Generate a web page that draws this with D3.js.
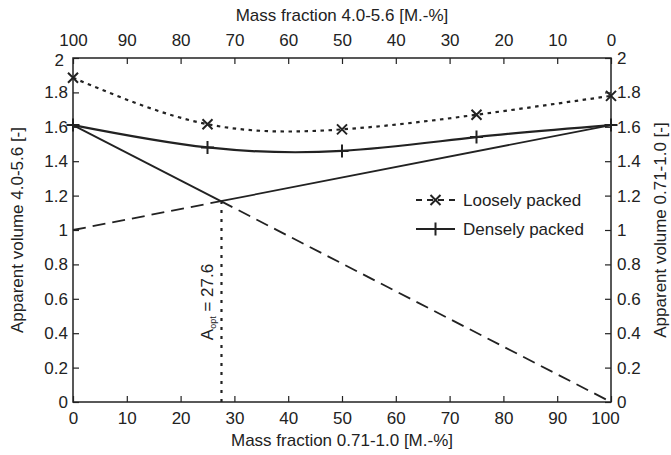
<!DOCTYPE html>
<html>
<head>
<meta charset="utf-8">
<script src="https://cdn.jsdelivr.net/npm/d3@7"></script>
<style>
  body { margin: 0; background: #fff; }
  svg text { font-family: "Liberation Sans", Arial, sans-serif; fill: #222; }
</style>
</head>
<body>
<div id="chart"></div>
<script>
// data
var massFraction = [0, 25, 50, 75, 100];
var looselyPacked = [1.885, 1.615, 1.585, 1.67, 1.78];
var denselyPacked = [1.61, 1.48, 1.46, 1.54, 1.61];
var lineFine = [[0, 1.61], [100, 0]];     // 4.0-5.6 volume falls off
var lineCoarse = [[0, 1.0], [100, 1.61]]; // 0.71-1.0 volume rises
var aOpt = 27.6;
var xTicks = [0, 10, 20, 30, 40, 50, 60, 70, 80, 90, 100];
var yTicks = [0, 0.2, 0.4, 0.6, 0.8, 1, 1.2, 1.4, 1.6, 1.8, 2];

var width = 671, height = 455;
var m = {top: 58, right: 60, bottom: 53, left: 73};
var ink = "#222";
var fs = 17;

var svg = d3.select("#chart").append("svg")
    .attr("width", width)
    .attr("height", height)
    .attr("font-size", fs);

var x = d3.scaleLinear().domain([0, 100]).range([m.left, width - m.right]);
var xTop = d3.scaleLinear().domain([100, 0]).range([m.left, width - m.right]);
var y = d3.scaleLinear().domain([0, 2]).range([height - m.bottom, m.top]);

// axes, ticks pointing inwards like matlab
function styleAxis(g) {
  g.select(".domain").remove();
  g.selectAll("line").attr("stroke", ink).attr("stroke-width", 1.2);
  g.selectAll("text").attr("font-size", fs).attr("fill", ink);
}
svg.append("g")
    .attr("transform", "translate(0," + y(0) + ")")
    .call(d3.axisBottom(x).tickValues(xTicks).tickSize(-6).tickPadding(10))
    .call(styleAxis)
    .selectAll("text").filter(function(d) { return d === 100; }).attr("dx", -6);
svg.append("g")
    .attr("transform", "translate(0," + y(2) + ")")
    .call(d3.axisTop(xTop).tickValues(xTicks).tickSize(-6).tickPadding(12))
    .call(styleAxis);
svg.append("g")
    .attr("transform", "translate(" + x(0) + ",0)")
    .call(d3.axisLeft(y).tickValues(yTicks).tickFormat(d3.format("~g")).tickSize(-6).tickPadding(5))
    .call(styleAxis)
    .selectAll("text").filter(function(d) { return d === 2; }).attr("dx", -4).attr("dy", "0.45em");
svg.append("g")
    .attr("transform", "translate(" + x(100) + ",0)")
    .call(d3.axisRight(y).tickValues(yTicks).tickFormat(d3.format("~g")).tickSize(-6).tickPadding(6))
    .call(styleAxis);

svg.append("rect")
    .attr("x", x(0)).attr("y", y(2))
    .attr("width", x(100) - x(0)).attr("height", y(0) - y(2))
    .attr("fill", "none").attr("stroke", ink).attr("stroke-width", 1.5);

// axis titles
svg.append("text").attr("x", (x(0) + x(100)) / 2).attr("y", 446)
    .attr("text-anchor", "middle").text("Mass fraction 0.71-1.0 [M.-%]");
svg.append("text").attr("x", (x(0) + x(100)) / 2).attr("y", 21)
    .attr("text-anchor", "middle").text("Mass fraction 4.0-5.6 [M.-%]");
svg.append("text")
    .attr("transform", "translate(23," + (y(1)) + ") rotate(-90)")
    .attr("text-anchor", "middle").text("Apparent volume 4.0-5.6 [-]");
svg.append("text")
    .attr("transform", "translate(666," + (y(1)) + ") rotate(-90)")
    .attr("text-anchor", "middle").text("Apparent volume 0.71-1.0 [-]");

// straight mixing lines, solid up to the crossing and dashed after it
function at(l, v) {
  return l[0][1] + (l[1][1] - l[0][1]) * (v - l[0][0]) / (l[1][0] - l[0][0]);
}
var sA = (lineFine[1][1] - lineFine[0][1]) / 100;
var sB = (lineCoarse[1][1] - lineCoarse[0][1]) / 100;
var cx = (lineCoarse[0][1] - lineFine[0][1]) / (sA - sB);
var cy = at(lineFine, cx);

var seg = d3.line().x(function(d) { return x(d[0]); }).y(function(d) { return y(d[1]); });

svg.append("path").datum([lineFine[0], [cx, cy]]).attr("d", seg)
    .attr("fill", "none").attr("stroke", ink).attr("stroke-width", 1.8);
svg.append("path").datum([[cx, cy], lineFine[1]]).attr("d", seg)
    .attr("fill", "none").attr("stroke", ink).attr("stroke-width", 1.8)
    .attr("stroke-dasharray", "13,7");
svg.append("path").datum([[cx, cy], lineCoarse[1]]).attr("d", seg)
    .attr("fill", "none").attr("stroke", ink).attr("stroke-width", 1.8);
svg.append("path").datum([lineCoarse[0], [cx, cy]]).attr("d", seg)
    .attr("fill", "none").attr("stroke", ink).attr("stroke-width", 1.8)
    .attr("stroke-dasharray", "13,7");

// optimum marker
svg.append("line")
    .attr("x1", x(aOpt)).attr("x2", x(aOpt))
    .attr("y1", y(0)).attr("y2", y(cy))
    .attr("stroke", ink).attr("stroke-width", 2.2)
    .attr("stroke-dasharray", "3,6");
var lab = svg.append("text")
    .attr("transform", "translate(" + (x(aOpt) - 8) + ",302) rotate(-90)")
    .attr("text-anchor", "middle");
lab.append("tspan").text("A");
lab.append("tspan").attr("font-size", 9).attr("dy", 3).text("opt");
lab.append("tspan").attr("dy", -3).text(" = " + aOpt);

// measured curves
var curve = d3.line()
    .x(function(d, i) { return x(massFraction[i]); })
    .y(function(d) { return y(d); })
    .curve(d3.curveNatural);

svg.append("path").datum(looselyPacked).attr("d", curve)
    .attr("fill", "none").attr("stroke", ink).attr("stroke-width", 2.2)
    .attr("stroke-dasharray", "3.5,4.5");
svg.append("path").datum(denselyPacked).attr("d", curve)
    .attr("fill", "none").attr("stroke", ink).attr("stroke-width", 2.2);

function cross(g, px, py) {
  var r = 5;
  g.append("path")
      .attr("d", "M" + (px - r) + "," + (py - r) + "L" + (px + r) + "," + (py + r) +
                 "M" + (px - r) + "," + (py + r) + "L" + (px + r) + "," + (py - r))
      .attr("stroke", ink).attr("stroke-width", 2);
}
function plus(g, px, py) {
  var r = 6.5;
  g.append("path")
      .attr("d", "M" + (px - r) + "," + py + "L" + (px + r) + "," + py +
                 "M" + px + "," + (py - r) + "L" + px + "," + (py + r))
      .attr("stroke", ink).attr("stroke-width", 2);
}
var marks = svg.append("g");
looselyPacked.forEach(function(d, i) { cross(marks, x(massFraction[i]), y(d)); });
denselyPacked.forEach(function(d, i) { plus(marks, x(massFraction[i]), y(d)); });

// legend
var legend = svg.append("g");
legend.append("line").attr("x1", 416).attr("x2", 455).attr("y1", 200).attr("y2", 200)
    .attr("stroke", ink).attr("stroke-width", 2.2).attr("stroke-dasharray", "6,5");
cross(legend, 435.5, 200);
legend.append("text").attr("x", 463).attr("y", 206).text("Loosely packed");
legend.append("line").attr("x1", 416).attr("x2", 455).attr("y1", 229).attr("y2", 229)
    .attr("stroke", ink).attr("stroke-width", 2.2);
plus(legend, 435.5, 229);
legend.append("text").attr("x", 463).attr("y", 235).text("Densely packed");
</script>
</body>
</html>
